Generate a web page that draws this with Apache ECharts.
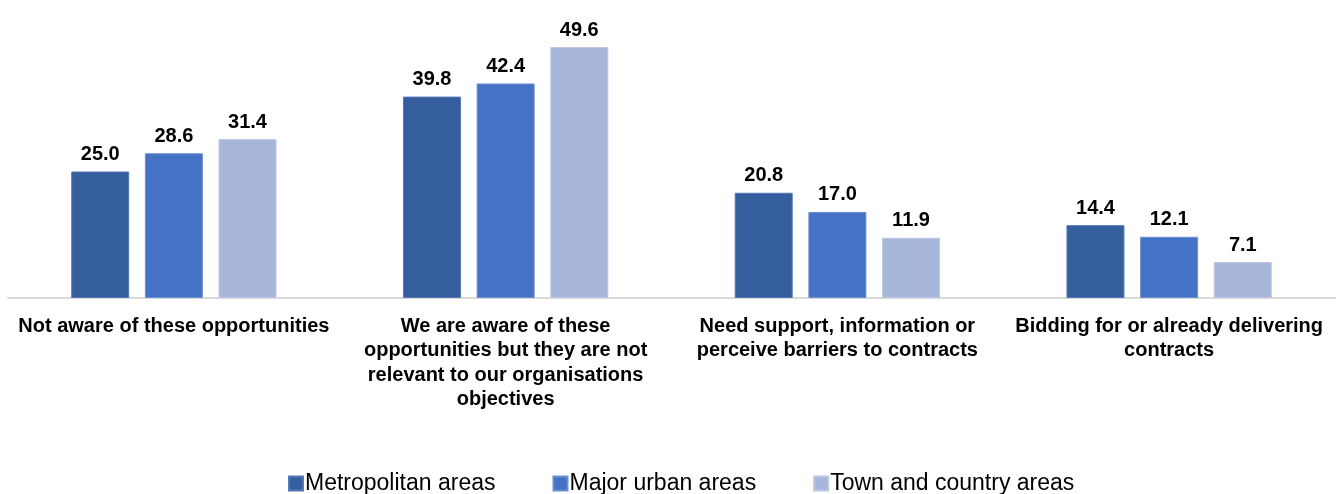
<!DOCTYPE html>
<html>
<head>
<meta charset="utf-8">
<script src="https://cdn.jsdelivr.net/npm/echarts@6/dist/echarts.min.js"></script>
<style>
  html, body { margin: 0; padding: 0; background: #fff; }
  #chart { width: 1337px; height: 494px; }
</style>
</head>
<body>
<div id="chart"></div>
<script>
// Response categories (line breaks as shown under the axis)
const categories = [
  'Not aware of these opportunities',
  'We are aware of these\nopportunities but they are not\nrelevant to our organisations\nobjectives',
  'Need support, information or\nperceive barriers to contracts',
  'Bidding for or already delivering\ncontracts'
];

const seriesNames = ['Metropolitan areas', 'Major urban areas', 'Town and country areas'];

const metropolitan = [25.0, 39.8, 20.8, 14.4];
const majorUrban = [28.6, 42.4, 17.0, 12.1];
const townCountry = [31.4, 49.6, 11.9, 7.1];

const colors = ['#355E9F', '#4472C4', '#A9B6DB'];
const borders = ['#5479B5', '#6B8FD3', '#BCC7E4'];
const values = [metropolitan, majorUrban, townCountry];

const FONT = '"Liberation Sans", Arial, sans-serif';

const chart = echarts.init(document.getElementById('chart'));
chart.setOption({
  animation: false,
  grid: { left: 8, right: 2, top: 45, bottom: 196, containLabel: false },
  legend: {
    top: 467,
    left: 283,
    itemWidth: 14,
    itemHeight: 14,
    itemGap: 57,
    icon: 'rect',
    textStyle: { fontFamily: FONT, fontSize: 23, color: '#000', padding: [0, 0, 0, -3] },
    data: seriesNames
  },
  xAxis: {
    type: 'category',
    data: categories,
    axisLine: { lineStyle: { color: '#D9D9D9', width: 2 } },
    axisTick: { show: false },
    axisLabel: {
      interval: 0,
      margin: 16,
      fontFamily: FONT,
      fontSize: 20,
      fontWeight: 'bold',
      color: '#000',
      lineHeight: 24.5
    }
  },
  yAxis: {
    type: 'value',
    min: 0,
    max: 50,
    show: false,
    splitLine: { show: false }
  },
  series: values.map((vals, i) => ({
    name: seriesNames[i],
    type: 'bar',
    data: vals,
    barWidth: 58,
    barGap: '27%',
    itemStyle: { color: colors[i], borderColor: borders[i], borderWidth: 1 },
    label: {
      show: true,
      position: 'top',
      distance: 7,
      fontFamily: FONT,
      fontSize: 20,
      fontWeight: 'bold',
      color: '#000',
      formatter: p => p.value.toFixed(1)
    }
  }))
});
</script>
</body>
</html>
